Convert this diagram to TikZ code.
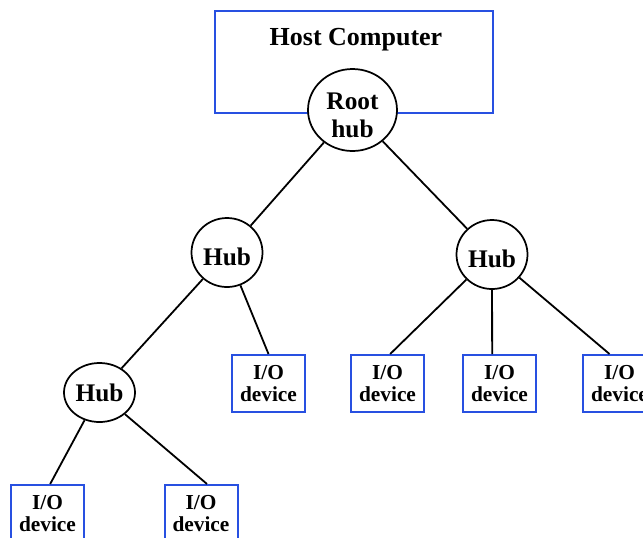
\documentclass[tikz,border=0pt]{standalone}
\usepackage{fontspec}
\setmainfont{Liberation Serif}
\usepackage{tikz}
\usetikzlibrary{shapes.geometric}
\definecolor{boxblue}{RGB}{40,80,225}

\begin{document}
\begin{tikzpicture}[x=0.75pt, y=-0.75pt,
  hubnode/.style={ellipse, draw=black, line width=1.3pt, fill=white, inner sep=0pt, minimum width=53.25pt, minimum height=51.75pt, font=\fontsize{19}{21}\selectfont\bfseries},
  iobox/.style={rectangle, draw=boxblue, line width=1.5pt, fill=white, minimum width=54.75pt, minimum height=42.75pt, inner sep=0pt, align=center, font=\fontsize{16}{16}\selectfont\bfseries},
  link/.style={line width=1.35pt}]

\useasboundingbox (0,0) rectangle (643,537);
\clip (0,0) rectangle (643,537);

\node at (214,10) [rectangle, draw=boxblue, line width=1.5pt, minimum width=208.5pt, minimum height=76.5pt, anchor=north west] (host) {};
\node at (356,45) [anchor=base, inner sep=0pt, font=\fontsize{19.5}{21}\selectfont\bfseries] (hostlabel) {Host Computer};

\node at (352.5,110) [hubnode, minimum width=66.75pt, minimum height=61.5pt] (root) {};
\node at (352.5,115.5) [inner sep=0pt, align=center, font=\fontsize{19}{21}\selectfont\bfseries] (rootlabel) {Root\\hub};

\node at (227,252.5) [hubnode, text height=20pt, text depth=0pt] (hubL) {Hub};
\node at (492,254.5) [hubnode, text height=20pt, text depth=0pt] (hubR) {Hub};
\node at (99.5,392.5) [hubnode, minimum height=44.25pt] (hubB) {Hub};

\node at (268.5,383.5) [iobox] (ioA) {I/O\\device};
\node at (387.5,383.5) [iobox] (ioB) {I/O\\device};
\node at (499.5,383.5) [iobox] (ioC) {I/O\\device};
\node at (619.5,383.5) [iobox] (ioD) {I/O\\device};
\node at (47.5,513.5) [iobox] (ioE) {I/O\\device};
\node at (201,513.5) [iobox] (ioF) {I/O\\device};

\draw [link] (root) -- (hubL);
\draw [link] (root) -- (hubR);
\draw [link] (hubL) -- (hubB);
\draw [link] (hubL) -- (ioA.north);
\draw [link] (hubR) -- ([xshift=2pt]ioB.north);
\draw [link] (hubR) -- ([xshift=-5.5pt]ioC.north);
\draw [link] (hubR) -- ([xshift=-7.5pt]ioD.north);
\draw [link] (hubB) -- ([xshift=2pt]ioE.north);
\draw [link] (hubB) -- ([xshift=4.5pt]ioF.north);

\end{tikzpicture}
\end{document}
